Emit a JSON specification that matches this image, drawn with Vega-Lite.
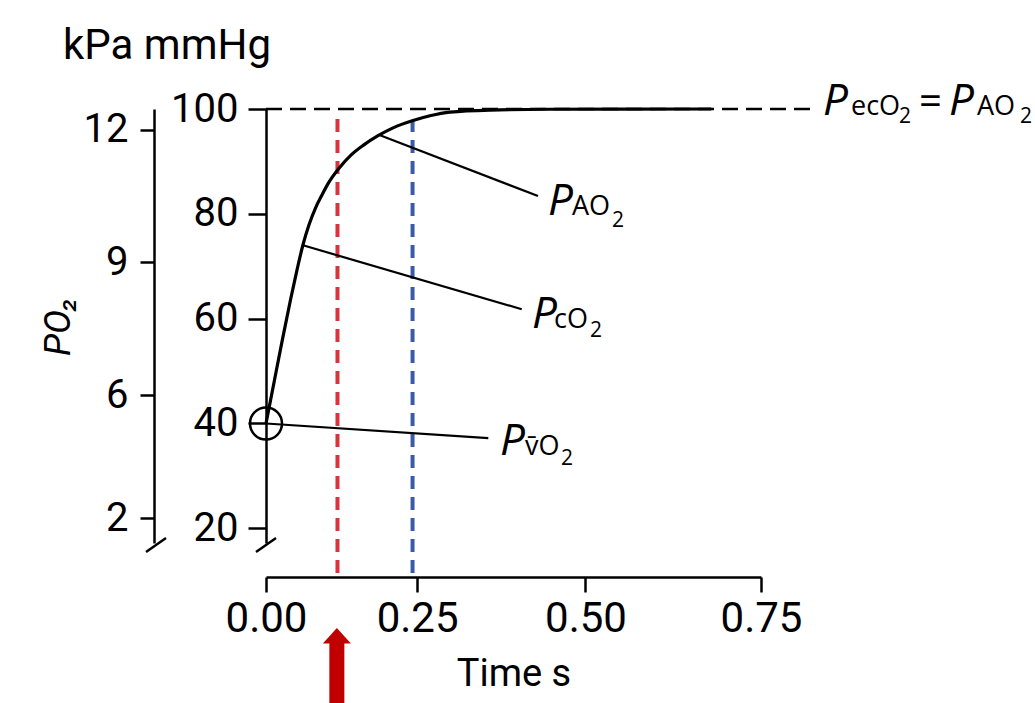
{
  "$schema": "https://vega.github.io/schema/vega-lite/v6.json",
  "autosize": {"type": "none"},
  "padding": {"left": 266, "top": 109, "right": 274, "bottom": 160},
  "width": 495,
  "height": 434,
  "background": "white",
  "title": {"text": "kPa mmHg", "anchor": "start", "frame": "group", "dx": -203, "offset": 12, "fontSize": 42, "fontWeight": "normal", "font": "Roboto", "color": "black"},
  "datasets": {
    "curve": [
      {"t": 0, "p": 40},
      {"t": 0.0174, "p": 48.3},
      {"t": 0.0318, "p": 55.9},
      {"t": 0.0464, "p": 63.6},
      {"t": 0.0577, "p": 69.3},
      {"t": 0.0679, "p": 74.1},
      {"t": 0.0781, "p": 77.9},
      {"t": 0.0889, "p": 81.1},
      {"t": 0.0997, "p": 83.6},
      {"t": 0.1104, "p": 85.9},
      {"t": 0.1275, "p": 88.7},
      {"t": 0.1467, "p": 91.2},
      {"t": 0.1666, "p": 93.1},
      {"t": 0.1895, "p": 94.9},
      {"t": 0.2129, "p": 96.4},
      {"t": 0.2437, "p": 97.8},
      {"t": 0.2697, "p": 98.7},
      {"t": 0.3, "p": 99.4},
      {"t": 0.36, "p": 99.8},
      {"t": 0.448, "p": 99.95},
      {"t": 0.68, "p": 100}
    ],
    "leaders": [
      {"t": 0.1926, "p": 95.0, "t2": 0.4308, "p2": 83.4},
      {"t": 0.0679, "p": 74.0, "t2": 0.4069, "p2": 61.8},
      {"t": 0, "p": 40, "t2": 0.3574, "p2": 37.2}
    ],
    "bigP": [
      {"t": 0.8367, "p": 98.9},
      {"t": 1.0105, "p": 98.9},
      {"t": 0.4454, "p": 79.8},
      {"t": 0.422, "p": 58.2},
      {"t": 0.3748, "p": 34.0}
    ],
    "subs": [
      {"t": 0.8755, "p": 98.9, "txt": "ecO"},
      {"t": 1.0488, "p": 98.9, "txt": "AO"},
      {"t": 0.4805, "p": 79.8, "txt": "AO"},
      {"t": 0.4542, "p": 58.2, "txt": "cO"},
      {"t": 0.4117, "p": 34.0, "txt": "v̄O"}
    ],
    "twos": [
      {"t": 0.9418, "p": 97.3},
      {"t": 1.1073, "p": 97.3},
      {"t": 0.5383, "p": 77.5},
      {"t": 0.5066, "p": 56.5},
      {"t": 0.4645, "p": 32.1}
    ],
    "eq": [
      {"t": 0.9693, "p": 98.9}
    ]
  },
  "layer": [
    {
      "data": {"values": [{"t0": 0, "t1": 0.8213, "p": 100}]},
      "mark": {"type": "rule", "color": "black", "strokeWidth": 2.5, "strokeDash": [16, 8]},
      "encoding": {
        "x": {"field": "t0", "type": "quantitative", "scale": {"type": "pow", "exponent": 1.08, "domain": [0, 0.75], "nice": false, "zero": false},
          "axis": {"values": [0, 0.25, 0.5, 0.75], "format": ".2f", "offset": 34, "tickSize": 15, "labelPadding": 6, "labelFontSize": 42, "title": "Time s", "titleFontSize": 38, "titlePadding": 16}},
        "x2": {"field": "t1"},
        "y": {"field": "p", "type": "quantitative", "scale": {"domain": [17.2, 100], "nice": false, "zero": false},
          "axis": {"orient": "left", "offset": 112, "values": [21.9, 45.4, 70.8, 96], "labelExpr": "datum.value > 90 ? '12' : datum.value > 60 ? '9' : datum.value > 40 ? '6' : '2'", "tickSize": 14, "labelPadding": 12, "labelFontSize": 40, "title": "PO₂", "titleFontSize": 36, "titleFontStyle": "italic", "titlePadding": 6}}
      }
    },
    {
      "data": {"values": [{"t": 0.125, "lo": 11.5, "hi": 98.5}]},
      "mark": {"type": "rule", "color": "#d9343d", "strokeWidth": 4, "strokeDash": [13, 8]},
      "encoding": {
        "x": {"field": "t", "type": "quantitative", "axis": null},
        "y": {"field": "lo", "type": "quantitative", "axis": null},
        "y2": {"field": "hi"}
      }
    },
    {
      "data": {"values": [{"t": 0.243, "lo": 11.5, "hi": 97.9}]},
      "mark": {"type": "rule", "color": "#3a5ca8", "strokeWidth": 4, "strokeDash": [13, 8]},
      "encoding": {
        "x": {"field": "t", "type": "quantitative", "axis": null},
        "y": {"field": "lo", "type": "quantitative", "axis": null},
        "y2": {"field": "hi"}
      }
    },
    {
      "data": {"name": "leaders"},
      "mark": {"type": "rule", "color": "black", "strokeWidth": 2.2},
      "encoding": {
        "x": {"field": "t", "type": "quantitative", "axis": null},
        "x2": {"field": "t2"},
        "y": {"field": "p", "type": "quantitative", "axis": null},
        "y2": {"field": "p2"}
      }
    },
    {
      "data": {"name": "curve"},
      "mark": {"type": "line", "color": "black", "strokeWidth": 3.2, "interpolate": "monotone"},
      "encoding": {
        "x": {"field": "t", "type": "quantitative", "axis": null},
        "y": {"field": "p", "type": "quantitative",
          "axis": {"orient": "left", "offset": 0, "values": [20, 40, 60, 80, 100], "tickSize": 18, "labelPadding": 10, "labelFontSize": 40, "title": null}}
      }
    },
    {
      "data": {"values": [{"t": 0, "p": 40}]},
      "mark": {"type": "point", "shape": "circle", "size": 1024, "filled": false, "stroke": "black", "strokeWidth": 2.5, "opacity": 1},
      "encoding": {
        "x": {"field": "t", "type": "quantitative", "axis": null},
        "y": {"field": "p", "type": "quantitative", "axis": null}
      }
    },
    {
      "data": {"values": [{"t": 0, "p": 16.8}]},
      "mark": {"type": "point", "shape": "M-1,0.7L1,-0.7", "size": 400, "filled": false, "stroke": "black", "strokeWidth": 2.5, "opacity": 1},
      "encoding": {
        "x": {"field": "t", "type": "quantitative", "axis": null},
        "y": {"field": "p", "type": "quantitative", "axis": null}
      }
    },
    {
      "data": {"values": [{"t": 0, "p": 16.8}]},
      "mark": {"type": "point", "shape": "M-1,0.7L1,-0.7", "size": 400, "filled": false, "stroke": "black", "strokeWidth": 2.5, "opacity": 1, "xOffset": -110},
      "encoding": {
        "x": {"field": "t", "type": "quantitative", "axis": null},
        "y": {"field": "p", "type": "quantitative", "axis": null}
      }
    },
    {
      "data": {"values": [{"t": 0.124, "top": -1.3, "bottom": -15}]},
      "mark": {"type": "rule", "color": "#c00000", "strokeWidth": 15},
      "encoding": {
        "x": {"field": "t", "type": "quantitative", "axis": null},
        "y": {"field": "top", "type": "quantitative", "axis": null},
        "y2": {"field": "bottom"}
      }
    },
    {
      "data": {"values": [{"t": 0.124, "p": -0.5}]},
      "mark": {"type": "point", "shape": "M0,-0.55L1,0.55L-1,0.55Z", "size": 784, "filled": true, "color": "#c00000", "opacity": 1, "strokeWidth": 0},
      "encoding": {
        "x": {"field": "t", "type": "quantitative", "axis": null},
        "y": {"field": "p", "type": "quantitative", "axis": null}
      }
    },
    {
      "data": {"name": "bigP"},
      "mark": {"type": "text", "text": "P", "font": "Open Sans", "fontStyle": "italic", "fontSize": 44, "align": "left", "baseline": "alphabetic", "color": "black"},
      "encoding": {
        "x": {"field": "t", "type": "quantitative", "axis": null},
        "y": {"field": "p", "type": "quantitative", "axis": null}
      }
    },
    {
      "data": {"name": "subs"},
      "mark": {"type": "text", "font": "Open Sans", "fontSize": 27, "align": "left", "baseline": "alphabetic", "color": "black"},
      "encoding": {
        "x": {"field": "t", "type": "quantitative", "axis": null},
        "y": {"field": "p", "type": "quantitative", "axis": null},
        "text": {"field": "txt"}
      }
    },
    {
      "data": {"name": "twos"},
      "mark": {"type": "text", "text": "2", "font": "Open Sans", "fontSize": 21, "align": "left", "baseline": "alphabetic", "color": "black"},
      "encoding": {
        "x": {"field": "t", "type": "quantitative", "axis": null},
        "y": {"field": "p", "type": "quantitative", "axis": null}
      }
    },
    {
      "data": {"name": "eq"},
      "mark": {"type": "text", "text": "=", "font": "Open Sans", "fontSize": 40, "align": "left", "baseline": "alphabetic", "color": "black"},
      "encoding": {
        "x": {"field": "t", "type": "quantitative", "axis": null},
        "y": {"field": "p", "type": "quantitative", "axis": null}
      }
    }
  ],
  "resolve": {"axis": {"x": "independent", "y": "independent"}},
  "config": {
    "view": {"stroke": null},
    "font": "Roboto",
    "axis": {
      "domainColor": "black", "tickColor": "black", "labelColor": "black", "titleColor": "black",
      "domainWidth": 2.5, "tickWidth": 2.5, "grid": false,
      "labelFont": "Roboto", "titleFont": "Roboto", "labelFlush": false, "labelOverlap": false,
      "titleFontWeight": "normal"
    }
  }
}
